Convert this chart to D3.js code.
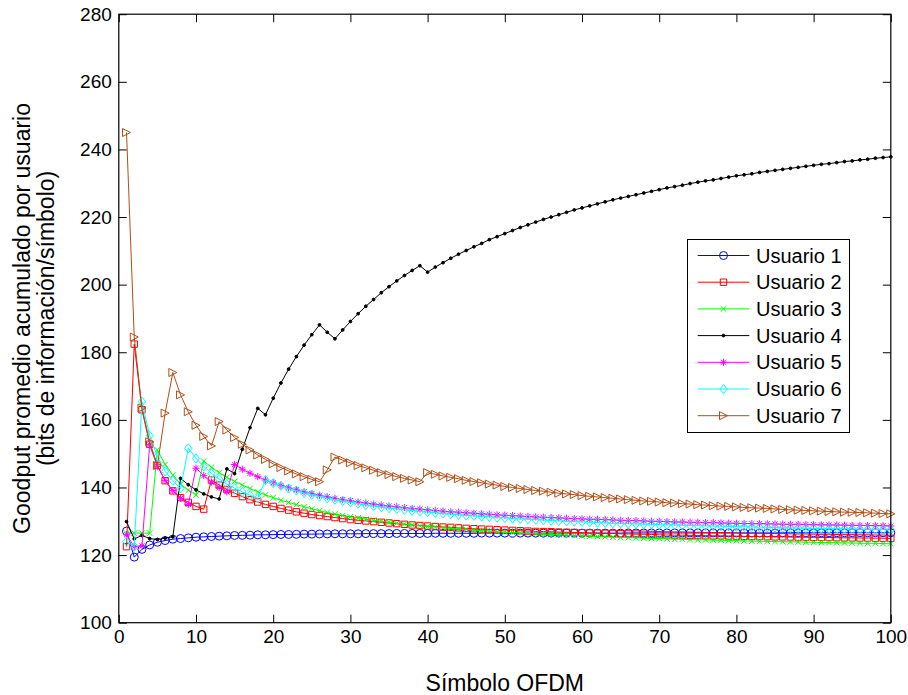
<!DOCTYPE html>
<html><head><meta charset="utf-8">
<script src="https://cdn.jsdelivr.net/npm/d3@7"></script>
<style>body{margin:0;background:#fff;} svg{display:block;font-family:"Liberation Sans",Arial,sans-serif;}</style>
</head><body><svg id="c" width="908" height="695"></svg>
<script>
const simbolos = d3.range(1, 101);
const xTicks = [0,10,20,30,40,50,60,70,80,90,100];
const yTicks = [100,120,140,160,180,200,220,240,260,280];
const nombres = ["Usuario 1","Usuario 2","Usuario 3","Usuario 4","Usuario 5","Usuario 6","Usuario 7"];
const u1 = [127.1,119.4,121.7,123.0,123.8,124.3,124.7,124.9,125.1,125.3,
125.4,125.5,125.6,125.7,125.8,125.85,125.9,126.0,126.0,126.05,
126.1,126.1,126.15,126.2,126.2,126.25,126.25,126.3,126.3,126.3,
126.3,126.35,126.35,126.35,126.35,126.4,126.4,126.4,126.4,126.4,
126.45,126.45,126.45,126.45,126.45,126.45,126.5,126.5,126.5,126.5,
126.5,126.5,126.5,126.5,126.5,126.5,126.5,126.5,126.5,126.5,
126.5,126.5,126.5,126.5,126.5,126.55,126.55,126.55,126.55,126.55,
126.55,126.55,126.55,126.55,126.55,126.55,126.55,126.55,126.55,126.55,
126.55,126.55,126.55,126.55,126.55,126.6,126.6,126.6,126.6,126.6,
126.6,126.6,126.6,126.6,126.6,126.6,126.6,126.6,126.6,126.6];
const u2 = [122.5,182.4,163.0,152.8,146.5,142.0,139.0,137.0,135.6,134.4,
133.6,142.2,140.7,139.4,138.3,137.3,136.4,135.7,135.0,134.4,
133.8,133.3,132.8,132.4,132.0,131.7,131.4,131.1,130.8,130.5,
130.3,130.1,129.9,129.7,129.5,129.3,129.1,128.9,128.75,128.6,
128.45,128.3,128.2,128.05,127.9,127.8,127.7,127.6,127.5,127.4,
127.3,127.2,127.1,127.0,126.95,126.9,126.8,126.75,126.7,126.6,
126.55,126.5,126.45,126.4,126.3,126.25,126.2,126.15,126.1,126.0,
125.95,125.9,125.9,125.85,125.8,125.75,125.7,125.7,125.65,125.6,
125.55,125.5,125.5,125.45,125.4,125.4,125.35,125.3,125.3,125.25,
125.2,125.2,125.15,125.1,125.1,125.05,125.05,125.0,125.0,124.95];
const u3 = [126.5,126.5,126.5,126.5,151.1,146.8,143.7,141.0,139.2,137.8,
147.8,146.0,144.4,143.0,141.8,140.7,139.7,138.7,137.8,137.0,
136.2,135.6,134.9,134.3,133.7,133.1,132.6,132.1,131.7,131.3,
131.0,130.6,130.3,130.0,129.7,129.4,129.2,128.9,128.7,128.5,
128.3,128.1,127.9,127.7,127.6,127.4,127.2,127.1,126.9,126.8,
126.7,126.5,126.4,126.3,126.2,126.1,126.0,125.9,125.8,125.7,
125.6,125.5,125.4,125.3,125.2,125.15,125.1,125.0,124.9,124.9,
124.8,124.7,124.7,124.6,124.5,124.5,124.4,124.4,124.3,124.25,
124.2,124.1,124.1,124.05,124.0,123.95,123.9,123.9,123.8,123.8,
123.7,123.7,123.65,123.6,123.6,123.5,123.5,123.5,123.4,123.4];
const u4 = [129.9,124.8,125.8,124.9,124.6,125.0,125.4,142.7,140.8,139.3,
138.1,137.2,136.6,145.5,144.1,151.3,157.7,163.4,161.5,166.4,
170.9,175.0,178.7,182.1,185.2,188.1,185.9,184.0,186.6,189.1,
191.4,193.6,195.6,197.6,199.4,201.1,202.7,204.2,205.6,203.7,
205.2,206.5,207.8,209.0,210.1,211.2,212.2,213.3,214.2,215.1,
216.0,216.9,217.7,218.5,219.3,220.0,220.7,221.4,222.1,222.7,
223.3,223.9,224.5,225.1,225.6,226.1,226.6,227.1,227.6,228.1,
228.6,229.0,229.4,229.9,230.3,230.7,231.0,231.4,231.8,232.2,
232.5,232.8,233.2,233.5,233.8,234.1,234.4,234.7,235.0,235.3,
235.6,235.8,236.1,236.4,236.6,236.9,237.1,237.4,237.6,237.8];
const u5 = [126.0,122.5,122.7,152.6,146.3,142.1,139.1,136.8,135.0,145.7,
143.5,141.6,140.0,138.7,146.8,145.4,144.2,143.2,142.2,141.4,
140.6,139.9,139.3,138.7,138.2,137.7,137.25,136.8,136.4,136.1,
135.7,135.4,135.1,134.8,134.5,134.3,134.05,133.8,133.6,133.4,
133.2,133.0,132.8,132.7,132.5,132.4,132.2,132.1,131.9,131.8,
131.7,131.55,131.4,131.3,131.2,131.1,131.0,130.9,130.8,130.7,
130.6,130.6,130.5,130.4,130.3,130.25,130.2,130.1,130.0,130.0,
129.9,129.8,129.8,129.7,129.7,129.6,129.6,129.5,129.45,129.4,
129.35,129.3,129.3,129.25,129.2,129.15,129.1,129.1,129.05,129.0,
128.95,128.9,128.9,128.85,128.8,128.8,128.75,128.7,128.7,128.6];
const u6 = [124.0,122.5,165.4,155.3,149.2,144.8,142.0,139.7,151.6,148.6,
146.2,144.2,142.5,141.0,139.8,138.7,137.7,136.8,142.2,141.3,
140.5,139.7,139.1,138.4,137.9,137.3,136.8,136.4,136.0,135.6,
135.2,134.8,134.5,134.2,133.9,133.65,133.4,133.15,132.9,132.7,
132.5,132.3,132.1,131.9,131.7,131.6,131.4,131.3,131.1,131.0,
130.8,130.7,130.6,130.5,130.35,130.2,130.1,130.0,129.9,129.8,
129.7,129.6,129.5,129.4,129.4,129.3,129.2,129.15,129.1,129.0,
128.95,128.9,128.8,128.75,128.7,128.65,128.6,128.55,128.5,128.4,
128.35,128.3,128.25,128.2,128.15,128.1,128.05,128.0,127.95,127.9,
127.85,127.8,127.8,127.75,127.7,127.65,127.6,127.6,127.55,127.5];
const u7 = [245.0,184.5,163.5,153.5,146.5,162.0,174.0,167.4,162.4,158.4,
155.1,152.3,159.5,157.0,154.8,152.8,151.1,149.6,148.3,147.0,
145.9,144.9,144.0,143.2,142.4,141.7,145.2,149.0,148.1,147.3,
146.5,145.8,145.1,144.4,143.8,143.2,142.7,142.2,141.7,144.4,
143.9,143.4,143.0,142.6,142.1,141.75,141.4,141.0,140.7,140.3,
140.0,139.7,139.4,139.1,138.9,138.6,138.3,138.1,137.9,137.6,
137.4,137.2,137.0,136.8,136.6,136.4,136.2,136.0,135.9,135.7,
135.5,135.4,135.2,135.1,134.9,134.8,134.6,134.5,134.4,134.25,
134.1,134.0,133.9,133.8,133.65,133.5,133.4,133.3,133.2,133.1,
133.0,132.9,132.8,132.7,132.65,132.6,132.5,132.4,132.3,132.2];

const series = [u1,u2,u3,u4,u5,u6,u7];
const colores = ["#0000ff","#ff0000","#00ff00","#000000","#ff00ff","#00ffff","#b24d17"];
const marcadores = ["circle","square","x","dot","star","diamond","tri"];

const svg = d3.select("#c");
const L=118.8, R=890.8, T=14.2, B=622.7;
const x = d3.scaleLinear().domain([0,100]).range([L,R]);
const y = d3.scaleLinear().domain([100,280]).range([B,T]);

svg.append("rect").attr("x",0).attr("y",0).attr("width",908).attr("height",695).attr("fill","#fff");

function mpath(t, cx, cy){
  switch(t){
    case "circle": {const r=4; return `M${cx-r},${cy}a${r},${r} 0 1,0 ${2*r},0a${r},${r} 0 1,0 ${-2*r},0Z`;}
    case "square": {const s=3.2; return `M${cx-s},${cy-s}H${cx+s}V${cy+s}H${cx-s}Z`;}
    case "x": {const s=2.8; return `M${cx-s},${cy-s}L${cx+s},${cy+s}M${cx-s},${cy+s}L${cx+s},${cy-s}`;}
    case "dot": {const r=1.4; return `M${cx-r},${cy}a${r},${r} 0 1,0 ${2*r},0a${r},${r} 0 1,0 ${-2*r},0Z`;}
    case "star": {const s=3.6, d=2.6; return `M${cx-s},${cy}H${cx+s}M${cx},${cy-s}V${cy+s}M${cx-d},${cy-d}L${cx+d},${cy+d}M${cx-d},${cy+d}L${cx+d},${cy-d}`;}
    case "diamond": {const w=3.6,h=4.6; return `M${cx},${cy-h}L${cx+w},${cy}L${cx},${cy+h}L${cx-w},${cy}Z`;}
    case "tri": {const w=4,h=4; return `M${cx-w},${cy-h}L${cx+w},${cy}L${cx-w},${cy+h}Z`;}
  }
}

// axes
const gx = svg.append("g").attr("transform",`translate(0,${B})`)
  .call(d3.axisBottom(x).tickValues(xTicks).tickSizeInner(-8).tickSizeOuter(0).tickPadding(7));
const gx2 = svg.append("g").attr("transform",`translate(0,${T})`)
  .call(d3.axisTop(x).tickValues(xTicks).tickSizeInner(-8).tickSizeOuter(0).tickFormat(""));
const gy = svg.append("g").attr("transform",`translate(${L},0)`)
  .call(d3.axisLeft(y).tickValues(yTicks).tickSizeInner(-8).tickSizeOuter(0).tickPadding(7));
const gy2 = svg.append("g").attr("transform",`translate(${R},0)`)
  .call(d3.axisRight(y).tickValues(yTicks).tickSizeInner(-8).tickSizeOuter(0).tickFormat(""));
[gx,gx2,gy,gy2].forEach(g=>{
  g.select(".domain").remove();
  g.selectAll("line").attr("stroke","#000").attr("stroke-width",1);
  g.selectAll("text").attr("font-size",19).attr("fill","#000").attr("font-family",'"Liberation Sans",Arial,sans-serif');
});

const line = d3.line().x((d,i)=>x(simbolos[i])).y(d=>y(d));
series.forEach((s,k)=>{
  const g = svg.append("g");
  g.append("path").attr("d",line(s)).attr("fill","none").attr("stroke",colores[k]).attr("stroke-width",1);
  g.selectAll("path.m").data(s).join("path").attr("class","m")
    .attr("d",(d,i)=>mpath(marcadores[k], x(simbolos[i]), y(d)))
    .attr("fill", marcadores[k]==="dot" ? colores[k] : "none")
    .attr("stroke",colores[k]).attr("stroke-width",1);
});

// box
svg.append("rect").attr("x",L).attr("y",T).attr("width",R-L).attr("height",B-T)
  .attr("fill","none").attr("stroke","#000").attr("stroke-width",1.2);

// legend
const lg = svg.append("g");
lg.append("rect").attr("x",687.5).attr("y",239.5).attr("width",162).attr("height",193)
  .attr("fill","#fff").attr("stroke","#000").attr("stroke-width",1);
nombres.forEach((n,k)=>{
  const yy = 255.5 + k*26.7;
  lg.append("line").attr("x1",697.7).attr("x2",749.3).attr("y1",yy).attr("y2",yy).attr("stroke",colores[k]).attr("stroke-width",1);
  lg.append("path").attr("d",mpath(marcadores[k],723.5,yy)).attr("fill",marcadores[k]==="dot"?colores[k]:"none").attr("stroke",colores[k]).attr("stroke-width",1);
  lg.append("text").attr("x",756).attr("y",yy+7).attr("font-size",20).attr("fill","#000").text(n);
});

// axis labels
svg.append("text").attr("x",(L+R)/2).attr("y",691).attr("text-anchor","middle").attr("font-size",23).text("Símbolo OFDM");
const yl = svg.append("text").attr("transform",`translate(0,${(T+B)/2}) rotate(-90)`).attr("text-anchor","middle").attr("font-size",23);
yl.append("tspan").attr("x",0).attr("y",30).text("Goodput promedio acumulado por usuario");
yl.append("tspan").attr("x",0).attr("y",54).text("(bits de información/símbolo)");
</script></body></html>
